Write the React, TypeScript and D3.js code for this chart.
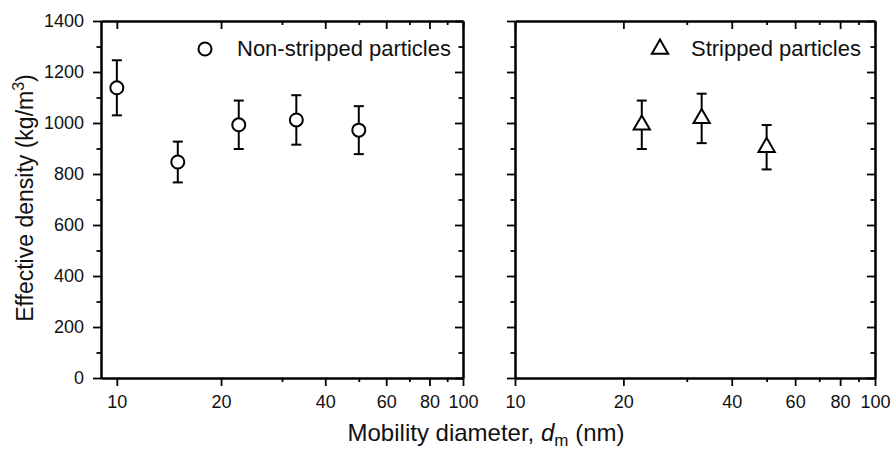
import React, { useRef, useEffect } from 'react';
import * as d3 from 'd3';

// Effective density (kg/m3) vs mobility diameter (nm)
const nonStrippedDm = [10, 15, 22.5, 33, 50];
const nonStrippedRho = [1138, 847, 993, 1012, 972];
const nonStrippedErr = [108, 80, 95, 97, 94];

const strippedDm = [22.5, 33, 50];
const strippedRho = [993, 1018, 905];
const strippedErr = [95, 97, 87];

const xMajor = [10, 20, 40, 60, 80, 100];
const xMinor = [30, 50, 70, 90];
const yMajor = [0, 200, 400, 600, 800, 1000, 1200, 1400];
const yMinor = [100, 300, 500, 700, 900, 1100, 1300];

const FONT = '"Liberation Sans", Arial, sans-serif';
const W = 896;
const H = 450;
const TOP = 21;
const BOTTOM = 378;

const styleAxis = (g: any) => {
  g.selectAll('path').attr('stroke', '#000').attr('stroke-width', 2);
  g.selectAll('line').attr('stroke', '#000').attr('stroke-width', 1.8);
  g.selectAll('text')
    .attr('font-family', FONT)
    .attr('font-size', 18)
    .attr('fill', '#111');
};

const drawPanel = (svg: any, opts: any) => {
  const { x0, x1, xMin, yLabels, xs, ys, errs, symbol, legendX, textX, label } = opts;

  const x = d3.scaleLog().domain([xMin, 100]).range([x0, x1]);
  const y = d3.scaleLinear().domain([0, 1400]).range([BOTTOM, TOP]);
  const none = () => '';

  // bottom axis
  svg.append('g')
    .attr('transform', `translate(0,${BOTTOM})`)
    .call(d3.axisBottom(x).tickValues(xMinor).tickSize(4).tickSizeOuter(0).tickFormat(none))
    .call(styleAxis);
  svg.append('g')
    .attr('transform', `translate(0,${BOTTOM})`)
    .call(d3.axisBottom(x).tickValues(xMajor).tickSize(8).tickSizeOuter(0).tickPadding(9).tickFormat(d3.format('d')))
    .call(styleAxis);

  // top axis (ticks inward)
  svg.append('g')
    .attr('transform', `translate(0,${TOP})`)
    .call(d3.axisTop(x).tickValues(xMinor).tickSize(-4).tickSizeOuter(0).tickFormat(none))
    .call(styleAxis);
  svg.append('g')
    .attr('transform', `translate(0,${TOP})`)
    .call(d3.axisTop(x).tickValues(xMajor).tickSize(-8).tickSizeOuter(0).tickFormat(none))
    .call(styleAxis);

  // left axis
  svg.append('g')
    .attr('transform', `translate(${x0},0)`)
    .call(d3.axisLeft(y).tickValues(yMinor).tickSize(4.5).tickSizeOuter(0).tickFormat(none))
    .call(styleAxis);
  svg.append('g')
    .attr('transform', `translate(${x0},0)`)
    .call(d3.axisLeft(y).tickValues(yMajor).tickSize(8).tickSizeOuter(0).tickPadding(9)
      .tickFormat(yLabels ? d3.format('d') : none))
    .call(styleAxis);

  // right axis (ticks inward)
  svg.append('g')
    .attr('transform', `translate(${x1},0)`)
    .call(d3.axisRight(y).tickValues(yMinor).tickSize(-4.5).tickSizeOuter(0).tickFormat(none))
    .call(styleAxis);
  svg.append('g')
    .attr('transform', `translate(${x1},0)`)
    .call(d3.axisRight(y).tickValues(yMajor).tickSize(-8).tickSizeOuter(0).tickFormat(none))
    .call(styleAxis);

  const pts = xs.map((d: number, i: number) => ({ d, rho: ys[i], err: errs[i] }));

  // error bars
  const eb = svg.append('g').attr('stroke', '#000').attr('stroke-width', 2).attr('fill', 'none');
  pts.forEach((p: any) => {
    const cx = x(p.d);
    const yt = y(p.rho + p.err);
    const yb = y(p.rho - p.err);
    eb.append('line').attr('x1', cx).attr('x2', cx).attr('y1', yt).attr('y2', yb);
    eb.append('line').attr('x1', cx - 5).attr('x2', cx + 5).attr('y1', yt).attr('y2', yt);
    eb.append('line').attr('x1', cx - 5).attr('x2', cx + 5).attr('y1', yb).attr('y2', yb);
  });

  const sym = d3.symbol().type(symbol).size(symbol === d3.symbolCircle ? 133 : 115);

  svg.append('g')
    .selectAll('path')
    .data(pts)
    .enter()
    .append('path')
    .attr('d', sym)
    .attr('transform', (p: any) => `translate(${x(p.d)},${y(p.rho)})`)
    .attr('fill', '#fff')
    .attr('stroke', '#000')
    .attr('stroke-width', 2);

  // legend
  svg.append('path')
    .attr('d', sym)
    .attr('transform', `translate(${legendX},49)`)
    .attr('fill', '#fff')
    .attr('stroke', '#000')
    .attr('stroke-width', 2);
  svg.append('text')
    .attr('x', textX)
    .attr('y', 56)
    .attr('font-family', FONT)
    .attr('font-size', 22)
    .attr('fill', '#111')
    .text(label);
};

const App = () => {
  const ref = useRef<SVGSVGElement>(null);

  useEffect(() => {
    if (!ref.current) return;
    const svg = d3.select(ref.current);
    svg.selectAll('*').remove();

    svg.append('rect').attr('width', W).attr('height', H).attr('fill', '#fff');

    drawPanel(svg, {
      x0: 101, x1: 463, xMin: 9, yLabels: true,
      xs: nonStrippedDm, ys: nonStrippedRho, errs: nonStrippedErr,
      symbol: d3.symbolCircle, legendX: 205, textX: 237, label: 'Non-stripped particles',
    });
    drawPanel(svg, {
      x0: 515, x1: 875, xMin: 10, yLabels: false,
      xs: strippedDm, ys: strippedRho, errs: strippedErr,
      symbol: d3.symbolTriangle, legendX: 660, textX: 691, label: 'Stripped particles',
    });

    // axis titles
    const xt = svg.append('text')
      .attr('x', 486)
      .attr('y', 441)
      .attr('text-anchor', 'middle')
      .attr('font-family', FONT)
      .attr('font-size', 24)
      .attr('fill', '#111');
    xt.append('tspan').text('Mobility diameter, ');
    xt.append('tspan').attr('font-style', 'italic').text('d');
    xt.append('tspan').attr('font-size', 17).attr('dy', 5).text('m');
    xt.append('tspan').attr('dy', -5).text(' (nm)');

    const yt = svg.append('text')
      .attr('transform', 'translate(33,198) rotate(-90)')
      .attr('text-anchor', 'middle')
      .attr('font-family', FONT)
      .attr('font-size', 23)
      .attr('fill', '#111');
    yt.append('tspan').text('Effective density (kg/m');
    yt.append('tspan').attr('font-size', 16).attr('dy', -9).text('3');
    yt.append('tspan').attr('dy', 9).text(')');
  }, []);

  return (
    <svg
      ref={ref}
      width={W}
      height={H}
      style={{ position: 'absolute', left: 0, top: 0, display: 'block' }}
    />
  );
};

export default App;
